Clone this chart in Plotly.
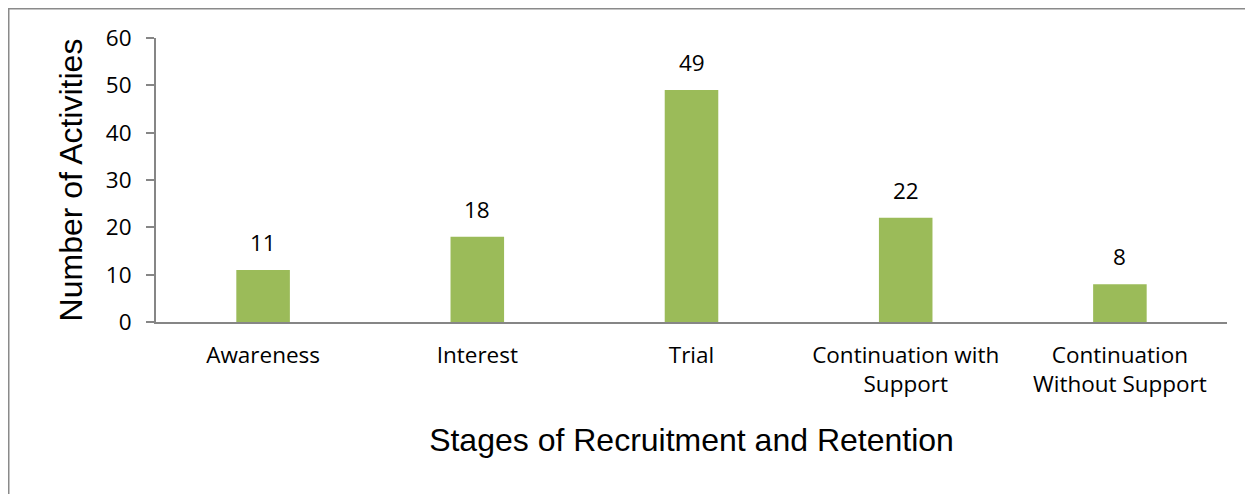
import plotly.graph_objects as go

categories = ["Awareness", "Interest", "Trial", "Continuation with<br>Support", "Continuation<br>Without Support"]
values = [11, 18, 49, 22, 8]
y_ticks = [0, 10, 20, 30, 40, 50, 60]

W, H = 1253, 494
# page is rendered with an 8px body offset
L, R, T, B = 148, 34, 30, 180
pw, ph = W - L - R, H - T - B

def px_x(x):
    return (x - L) / pw

def px_y(y):
    return (H - B - y) / ph

TICK_FONT = dict(family="'Open Sans', sans-serif", size=22.5, color="#000000")
TITLE_FONT = dict(family="'Liberation Sans', Arial, sans-serif", size=32, color="#000000")
AXIS_COLOR = "#868686"

fig = go.Figure()
fig.add_trace(go.Bar(
    x=categories, y=values,
    marker=dict(color="#9BBB59", line=dict(width=0)),
    hoverinfo="x+y",
))

for c, v in zip(categories, values):
    fig.add_annotation(x=c, y=v, text=str(v), showarrow=False,
                       xref="x", yref="y", yanchor="bottom", yshift=10,
                       font=TICK_FONT)

# outer chart border (cropped at right and bottom)
fig.add_shape(type="rect", xref="paper", yref="paper",
              x0=px_x(0.75), x1=px_x(1270), y0=px_y(520), y1=px_y(0.75),
              line=dict(color="#8A8A8A", width=1.5), fillcolor="rgba(0,0,0,0)", layer="below")

fig.update_layout(
    width=W, height=H,
    margin=dict(l=L, r=R, t=T, b=B, autoexpand=False),
    paper_bgcolor="white", plot_bgcolor="white",
    bargap=0.75,
    showlegend=False,
    xaxis=dict(
        showline=True, linecolor=AXIS_COLOR, linewidth=2,
        ticks="", tickfont=TICK_FONT, ticklabelstandoff=12,
        showgrid=False, zeroline=False,
        title=dict(text="Stages of Recruitment and Retention", font=TITLE_FONT, standoff=30),
        automargin=False,
    ),
    yaxis=dict(
        range=[0, 60], tickvals=y_ticks,
        showline=True, linecolor=AXIS_COLOR, linewidth=2,
        ticks="outside", ticklen=8, tickwidth=1.5, tickcolor=AXIS_COLOR,
        tickfont=TICK_FONT, ticklabelstandoff=10,
        showgrid=False, zeroline=False,
        title=dict(text="Number of Activities", font=TITLE_FONT, standoff=14),
        automargin=False,
    ),
)

fig.write_html("out.html")
